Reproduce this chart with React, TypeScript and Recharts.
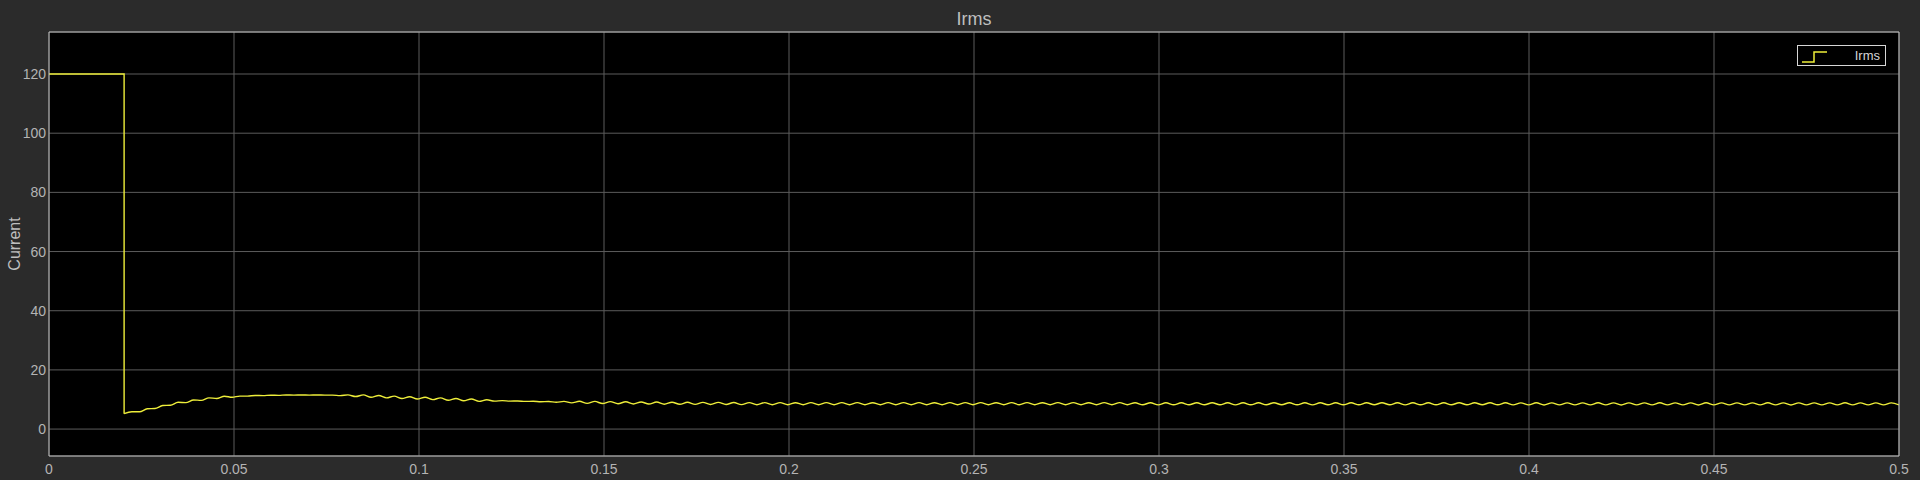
import { LineChart, Line, XAxis, YAxis, CartesianGrid, Legend } from "recharts";

// scope trace: Irms vs time (s)
const STEP_TIMES = [0, 0.0203, 0.0203];
const STEP_VALUES = [120, 120, 5.2];

// fixed-step samples after the drop (one value per half ripple period)
const RIPPLE_START = 0.0203;
const SAMPLE_STEP = 0.0020857;
const RIPPLE_VALUES = [
  5.2, 5.85, 5.85, 6.85, 6.95, 7.95, 8.05, 9.05, 8.95, 9.85,
  9.7, 10.55, 10.35, 11.1, 10.75, 11.15, 11.15, 11.35, 11.3, 11.45,
  11.4, 11.53, 11.47, 11.53, 11.47, 11.53, 11.47, 11.48, 11.3, 11.55,
  11.0, 11.55, 10.75, 11.35, 10.55, 11.15, 10.35, 10.95, 10.15, 10.75,
  9.95, 10.55, 9.75, 10.35, 9.55, 10.15, 9.35, 9.9, 9.45, 9.63,
  9.45, 9.5, 9.35, 9.4, 9.25, 9.33, 9.05, 9.36, 8.87, 9.38,
  8.69, 9.35, 8.62, 9.29, 8.56, 9.23, 8.5, 9.17, 8.45, 9.13,
  8.41, 9.09, 8.37, 9.05, 8.34, 9.03, 8.32, 9.01, 8.3, 8.99,
  8.28, 8.93, 8.23, 8.94, 8.22, 8.93, 8.23, 8.92, 8.24, 8.93,
  8.23, 8.94, 8.22, 8.93, 8.23, 8.93, 8.22, 8.92, 8.23, 8.94,
  8.23, 8.93, 8.22, 8.93, 8.24, 8.92, 8.23, 8.93, 8.22, 8.94,
  8.23, 8.93, 8.23, 8.92, 8.22, 8.93, 8.24, 8.93, 8.23, 8.92,
  8.22, 8.93, 8.23, 8.94, 8.23, 8.92, 8.22, 8.93, 8.23, 8.93,
  8.24, 8.9, 8.2, 8.91, 8.19, 8.9, 8.2, 8.89, 8.21, 8.9,
  8.2, 8.91, 8.2, 8.9, 8.19, 8.9, 8.2, 8.89, 8.2, 8.91,
  8.21, 8.9, 8.2, 8.9, 8.19, 8.91, 8.2, 8.9, 8.2, 8.89,
  8.2, 8.9, 8.21, 8.91, 8.2, 8.9, 8.19, 8.9, 8.2, 8.89,
  8.2, 8.9, 8.2, 8.91, 8.2, 8.9, 8.21, 8.9, 8.2, 8.9,
  8.19, 8.87, 8.17, 8.88, 8.16, 8.87, 8.17, 8.86, 8.18, 8.87,
  8.17, 8.88, 8.17, 8.87, 8.16, 8.87, 8.17, 8.86, 8.17, 8.88,
  8.18, 8.87, 8.17, 8.87, 8.16, 8.88, 8.17, 8.87, 8.17, 8.86,
  8.17, 8.87, 8.18, 8.88, 8.17, 8.87, 8.16, 8.87, 8.17, 8.86,
  8.17, 8.87, 8.17, 8.88, 8.17, 8.87, 8.18, 8.87, 8.17, 8.87,
  8.17,
];

const X_TICKS = [0, 0.05, 0.1, 0.15, 0.2, 0.25, 0.3, 0.35, 0.4, 0.45, 0.5];
const Y_TICKS = [0, 20, 40, 60, 80, 100, 120];
const X_DOMAIN = [0, 0.5];
const Y_DOMAIN = [-9.1, 134.2];

const BG = "#2b2b2b";
const GRID = "#5c5c5c";
const AXIS = "#bdbdbd";
const TICK = "#a9a9a9";
const TEXT = "#b4b4b4";
const TRACE = "#eeee3a";
const FONT = "'Liberation Sans', Arial, sans-serif";

const stepData = STEP_TIMES.map((t, i) => ({ t, irms: STEP_VALUES[i] }));
const rippleData = RIPPLE_VALUES.map((v, i) => ({ t: RIPPLE_START + i * SAMPLE_STEP, irms: v }));

function ScopeLegend() {
  return (
    <div
      style={{
        position: "relative",
        width: 89,
        height: 21,
        boxSizing: "border-box",
        border: "1px solid #d6d6d6",
        background: "#000",
        fontFamily: FONT,
      }}
    >
      <svg width={30} height={19} style={{ position: "absolute", left: 2, top: 0 }}>
        <polyline points="2,16 14,16 14,6 27,6" fill="none" stroke={TRACE} strokeWidth={1.5} />
      </svg>
      <span
        style={{
          position: "absolute",
          right: 5,
          top: 2,
          fontSize: 13,
          lineHeight: "15px",
          color: "#d6d6d6",
        }}
      >
        Irms
      </span>
    </div>
  );
}

export default function App() {
  return (
    <div
      style={{
        position: "absolute",
        left: 0,
        top: 0,
        width: 1920,
        height: 480,
        background: BG,
        fontFamily: FONT,
      }}
    >
      <div
        style={{
          position: "absolute",
          left: 49,
          width: 1850,
          top: 10,
          textAlign: "center",
          fontSize: 18,
          lineHeight: "18px",
          color: "#bfbfbf",
        }}
      >
        Irms
      </div>
      <LineChart
        width={1920}
        height={480}
        margin={{ top: 32, right: 21, bottom: 0, left: 4 }}
        style={{ fontFamily: FONT }}
      >
        <CartesianGrid stroke={GRID} fill="#000" />
        <XAxis
          dataKey="t"
          type="number"
          domain={X_DOMAIN}
          ticks={X_TICKS}
          allowDataOverflow
          height={24}
          tickLine={false}
          axisLine={{ stroke: AXIS }}
          tick={{ fill: TEXT, fontSize: 14 }}
          tickFormatter={(v) => String(v)}
        />
        <XAxis
          xAxisId="top"
          orientation="top"
          mirror
          dataKey="t"
          type="number"
          domain={X_DOMAIN}
          ticks={X_TICKS}
          allowDataOverflow
          height={18}
          tick={false}
          tickSize={18}
          tickLine={{ stroke: TICK }}
          axisLine={{ stroke: AXIS }}
        />
        <XAxis
          xAxisId="bottomTicks"
          orientation="bottom"
          mirror
          dataKey="t"
          type="number"
          domain={X_DOMAIN}
          ticks={X_TICKS}
          allowDataOverflow
          height={18}
          tick={false}
          tickSize={18}
          tickLine={{ stroke: TICK }}
          axisLine={false}
        />
        <YAxis
          type="number"
          domain={Y_DOMAIN}
          ticks={Y_TICKS}
          allowDataOverflow
          width={45}
          tickLine={false}
          tickSize={3}
          tickMargin={0}
          axisLine={{ stroke: AXIS }}
          tick={{ fill: TEXT, fontSize: 14 }}
          label={{
            content: () => (
              <text
                x={14}
                y={244}
                transform="rotate(-90 14 244)"
                textAnchor="middle"
                dominantBaseline="central"
                fill="#bfbfbf"
                fontSize={16}
                fontFamily={FONT}
              >
                Current
              </text>
            ),
          }}
        />
        <YAxis
          yAxisId="leftTicks"
          orientation="left"
          mirror
          type="number"
          domain={Y_DOMAIN}
          ticks={Y_TICKS}
          allowDataOverflow
          width={18}
          tick={false}
          tickSize={18}
          tickLine={{ stroke: TICK }}
          axisLine={false}
        />
        <YAxis
          yAxisId="right"
          orientation="right"
          mirror
          type="number"
          domain={Y_DOMAIN}
          ticks={Y_TICKS}
          allowDataOverflow
          width={18}
          tick={false}
          tickSize={18}
          tickLine={{ stroke: TICK }}
          axisLine={{ stroke: AXIS }}
        />
        <Legend
          layout="vertical"
          align="center"
          verticalAlign="middle"
          wrapperStyle={{ left: 1797, top: 45, width: 89, height: 21 }}
          content={() => <ScopeLegend />}
        />
        <Line
          data={stepData}
          type="linear"
          dataKey="irms"
          name="Irms"
          stroke={TRACE}
          strokeWidth={1.4}
          dot={false}
          legendType="none"
          isAnimationActive={false}
        />
        <Line
          data={rippleData}
          type="monotone"
          dataKey="irms"
          name="Irms"
          stroke={TRACE}
          strokeWidth={1.4}
          dot={false}
          isAnimationActive={false}
        />
      </LineChart>
    </div>
  );
}
